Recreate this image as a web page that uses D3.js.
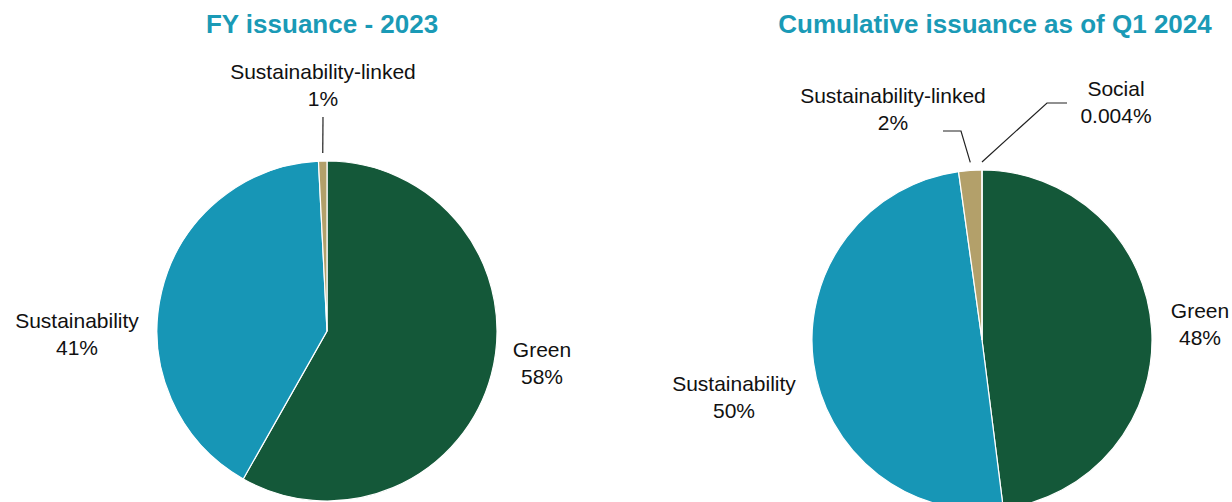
<!DOCTYPE html>
<html>
<head>
<meta charset="utf-8">
<script src="https://cdn.jsdelivr.net/npm/d3@7"></script>
<style>
  body { margin: 0; background: #fff; }
  svg { display: block; font-family: "Liberation Sans", Arial, sans-serif; }
</style>
</head>
<body>
<div id="chart"></div>
<script>
// Data
const categories = ["Green", "Sustainability", "Sustainability-linked", "Social"];
const fy2023Values = [58.2, 41.0, 0.8, 0];
const fy2023Labels = ["58%", "41%", "1%", ""];
const cumulativeValues = [48.0, 49.8, 2.2, 0.004];
const cumulativeLabels = ["48%", "50%", "2%", "0.004%"];
const titles = ["FY issuance - 2023", "Cumulative issuance as of Q1 2024"];

const width = 1232, height = 502;
const colors = d3.scaleOrdinal()
  .domain(categories)
  .range(["#145839", "#1796b6", "#b3a06a", "#8fcfe0"]);

const svg = d3.select("#chart").append("svg")
  .attr("width", width).attr("height", height);

// layout of each pie: centre, radius, title and label positions
const pies = [
  { values: fy2023Values, labels: fy2023Labels, title: titles[0], cx: 327, cy: 331, r: 170, tx: 322,
    place: {
      "Green": { x: 542, y: 357 },
      "Sustainability": { x: 77, y: 328 },
      "Sustainability-linked": { x: 323, y: 79, leader: [[323, 117]] }
    } },
  { values: cumulativeValues, labels: cumulativeLabels, title: titles[1], cx: 982, cy: 340, r: 170, tx: 995,
    place: {
      "Green": { x: 1200, y: 318 },
      "Sustainability": { x: 734, y: 391 },
      "Sustainability-linked": { x: 893, y: 103, leader: [[943, 131], [961, 131]] },
      "Social": { x: 1116, y: 96, leader: [[1067, 103], [1047, 103]] }
    } }
];

const pie = d3.pie().sort(null).value(d => d.value);

pies.forEach(p => {
  const g = svg.append("g");
  const data = categories.map((c, i) => ({ name: c, value: p.values[i], label: p.labels[i] }))
    .filter(d => d.value > 0);
  const arcs = pie(data);
  const arc = d3.arc().innerRadius(0).outerRadius(p.r);

  g.append("text")
    .attr("x", p.tx).attr("y", 33)
    .attr("text-anchor", "middle")
    .attr("font-size", "26px").attr("font-weight", "bold")
    .attr("fill", "#1a9ab6")
    .text(p.title);

  const slices = g.append("g").attr("transform", `translate(${p.cx},${p.cy})`);
  slices.selectAll("path")
    .data(arcs)
    .enter().append("path")
      .attr("d", arc)
      .attr("fill", d => colors(d.data.name))
      .attr("stroke", "#fff")
      .attr("stroke-width", 1.2);

  arcs.forEach(a => {
    const pl = p.place[a.data.name];
    if (!pl) return;
    const t = g.append("text")
      .attr("text-anchor", "middle")
      .attr("font-size", "21px").attr("fill", "#111");
    t.append("tspan").attr("x", pl.x).attr("y", pl.y).text(a.data.name);
    t.append("tspan").attr("x", pl.x).attr("y", pl.y + 27).text(a.data.label);

    if (pl.leader) {
      const mid = (a.startAngle + a.endAngle) / 2;
      const ex = p.cx + Math.sin(mid) * (p.r - 1);
      const ey = p.cy - Math.cos(mid) * (p.r + 8);
      const pts = pl.leader.concat([[ex, ey]]);
      g.append("path")
        .attr("d", d3.line()(pts))
        .attr("fill", "none")
        .attr("stroke", "#222")
        .attr("stroke-width", 1.2);
    }
  });
});
</script>
</body>
</html>
